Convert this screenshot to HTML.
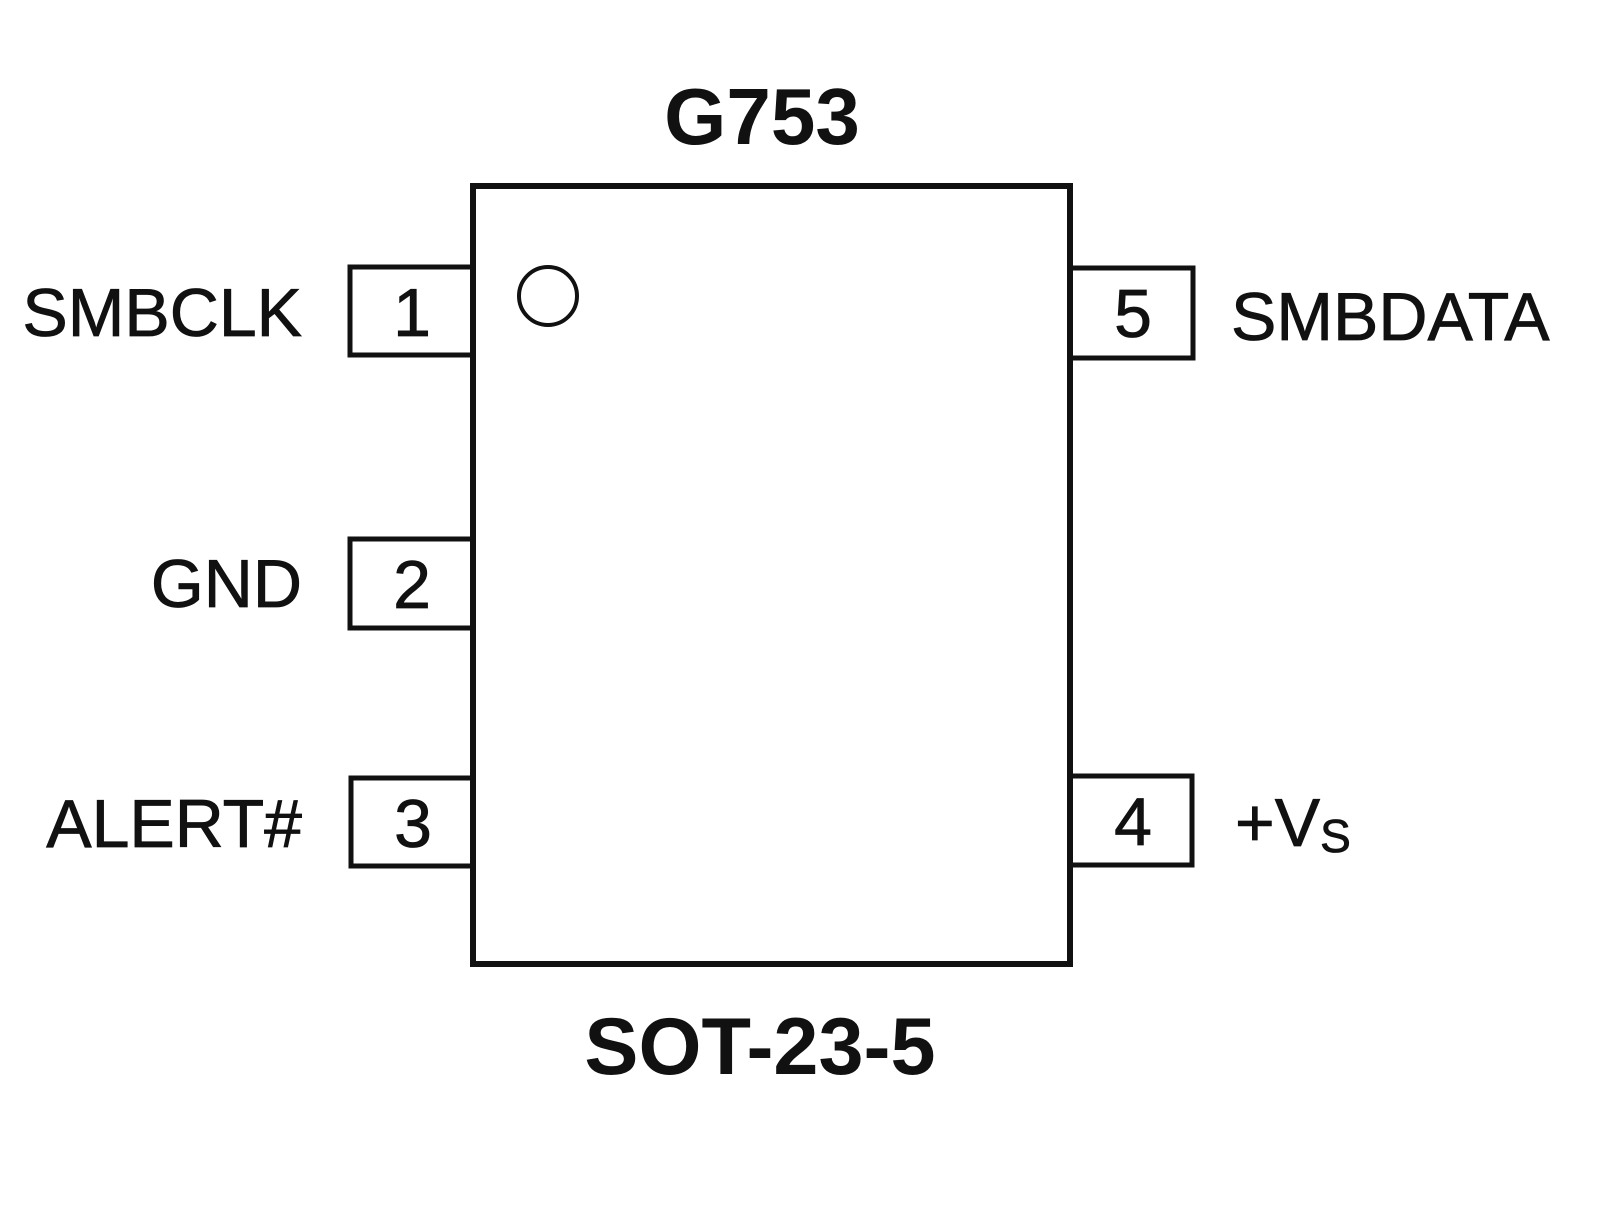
<!DOCTYPE html>
<html><head><meta charset="utf-8"><style>
html,body{margin:0;padding:0;background:#fff;}
svg{display:block;}
text{font-family:"Liberation Sans",Arial,sans-serif;fill:#111;}
</style></head><body>
<svg width="1600" height="1228" viewBox="0 0 1600 1228" xmlns="http://www.w3.org/2000/svg">
<rect x="0" y="0" width="1600" height="1228" fill="#fff"/>
<g fill="none" stroke="#111">
<rect x="473" y="186" width="597" height="778" stroke-width="6"/>
<rect x="350" y="267" width="123" height="88" stroke-width="5"/>
<rect x="350" y="539" width="123" height="89" stroke-width="5"/>
<rect x="351" y="778" width="122" height="88" stroke-width="5"/>
<rect x="1070" y="268" width="123" height="90" stroke-width="5"/>
<rect x="1070" y="776" width="122" height="89" stroke-width="5"/>
<circle cx="548" cy="296" r="29" stroke-width="4"/>
</g>
<text x="762" y="144" font-size="80" font-weight="bold" text-anchor="middle">G753</text>
<text x="760" y="1074" font-size="81" font-weight="bold" text-anchor="middle">SOT-23-5</text>
<g font-size="68" stroke="#111" stroke-width="0.8">
<text x="302" y="336" text-anchor="end">SMBCLK</text>
<text x="302" y="607" text-anchor="end">GND</text>
<text x="302" y="847" text-anchor="end">ALERT#</text>
<text x="1231" y="340">SMBDATA</text>
<text x="1235" y="846">+V<tspan font-size="46" dy="6">S</tspan></text>
<text x="412" y="336" text-anchor="middle">1</text>
<text x="412" y="608" text-anchor="middle">2</text>
<text x="413" y="847" text-anchor="middle">3</text>
<text x="1133" y="337" text-anchor="middle">5</text>
<text x="1133" y="845" text-anchor="middle">4</text>
</g>
</svg>
</body></html>
